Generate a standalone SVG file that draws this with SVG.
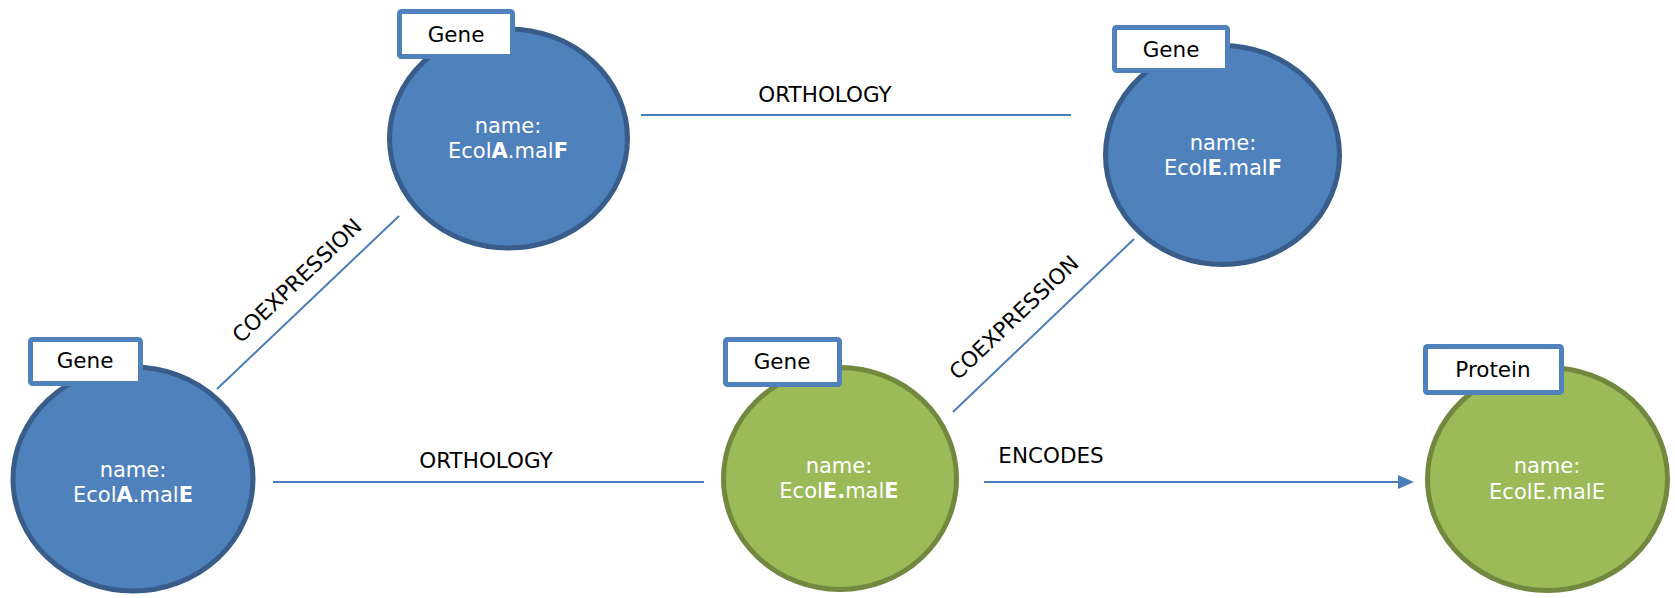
<svg xmlns="http://www.w3.org/2000/svg" width="1675" height="598" viewBox="0 0 1675 598">
<style>
.blue{fill:#4F81BD;stroke:#385D8A;stroke-width:5}
.green{fill:#9BBB59;stroke:#71893F;stroke-width:5}
.lbl{fill:#FFFFFF;stroke:#4F81BD;stroke-width:5}
.lt{font-family:"DejaVu Sans",sans-serif;font-size:21.5px;fill:#000;text-anchor:middle}
.nt{font-family:"DejaVu Sans",sans-serif;font-size:21px;fill:#FFFFFF;text-anchor:middle}
.et{font-family:"DejaVu Sans",sans-serif;font-size:21.5px;fill:#000;text-anchor:middle}
.edge{stroke:#4A7EBB;stroke-width:2;fill:none}
</style>
<g id="edges">
<line class="edge" x1="641" y1="115" x2="1071" y2="115"/>
<text class="et" x="825" y="102">ORTHOLOGY</text>
<line class="edge" x1="273" y1="482" x2="704" y2="482"/>
<text class="et" x="486" y="468">ORTHOLOGY</text>
<line class="edge" x1="984" y1="482" x2="1398" y2="482"/>
<path d="M1398,475 L1414,482 L1398,489 Z" fill="#4A7EBB"/>
<text class="et" x="1051" y="463">ENCODES</text>
<line class="edge" x1="217" y1="389" x2="399" y2="216"/>
<text class="et" transform="translate(302,286) rotate(-43.5)">COEXPRESSION</text>
<line class="edge" x1="953" y1="412" x2="1134" y2="239"/>
<text class="et" transform="translate(1019,323) rotate(-43.5)">COEXPRESSION</text>
</g>
<g id="node-ecolA-malE">
<ellipse class="blue" cx="133" cy="479" rx="120" ry="112"/>
<rect class="lbl" x="30.5" y="339.5" width="110" height="44" rx="2"/>
<text class="lt" x="85" y="368">Gene</text>
<text class="nt" x="133" y="477">name:</text>
<text class="nt" x="133" y="502">Ecol<tspan font-weight="bold">A</tspan>.mal<tspan font-weight="bold">E</tspan></text>
</g>
<g id="node-ecolA-malF">
<ellipse class="blue" cx="508.5" cy="138.5" rx="119" ry="109.5"/>
<rect class="lbl" x="399.5" y="11.5" width="113" height="45" rx="2"/>
<text class="lt" x="456" y="42">Gene</text>
<text class="nt" x="508" y="133">name:</text>
<text class="nt" x="508" y="158">Ecol<tspan font-weight="bold">A</tspan>.mal<tspan font-weight="bold">F</tspan></text>
</g>
<g id="node-ecolE-malE">
<ellipse class="green" cx="840" cy="478.5" rx="116.5" ry="111"/>
<rect class="lbl" x="725.5" y="339.5" width="114" height="45" rx="2"/>
<text class="lt" x="782" y="369">Gene</text>
<text class="nt" x="839" y="473">name:</text>
<text class="nt" x="839" y="498">Ecol<tspan font-weight="bold">E.</tspan>mal<tspan font-weight="bold">E</tspan></text>
</g>
<g id="node-ecolE-malF">
<ellipse class="blue" cx="1222.5" cy="155" rx="117" ry="109.5"/>
<rect class="lbl" x="1114.5" y="27.5" width="113" height="43" rx="2"/>
<text class="lt" x="1171" y="57">Gene</text>
<text class="nt" x="1223" y="150">name:</text>
<text class="nt" x="1223" y="175">Ecol<tspan font-weight="bold">E</tspan>.mal<tspan font-weight="bold">F</tspan></text>
</g>
<g id="node-protein">
<ellipse class="green" cx="1547.5" cy="479" rx="120" ry="111.5"/>
<rect class="lbl" x="1425.5" y="346.5" width="136" height="46" rx="2"/>
<text class="lt" x="1493" y="377">Protein</text>
<text class="nt" x="1547" y="473">name:</text>
<text class="nt" x="1547" y="499">EcolE.malE</text>
</g>
</svg>
